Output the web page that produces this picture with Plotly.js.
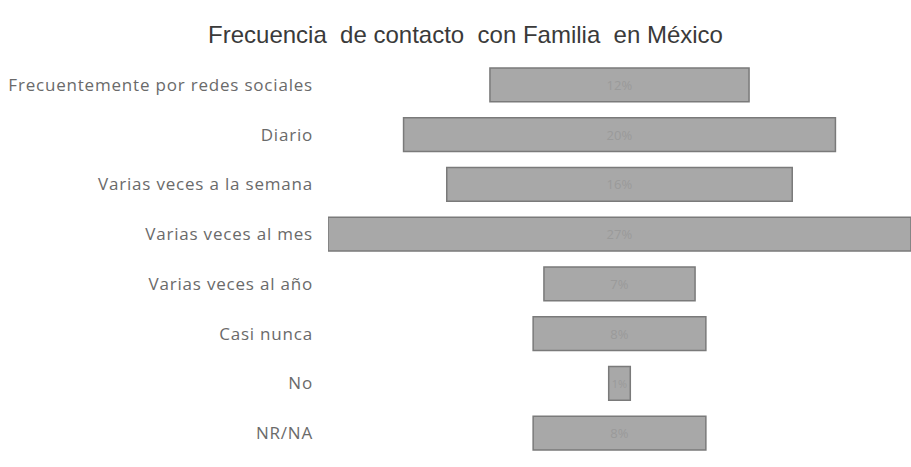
<!DOCTYPE html>
<html><head><meta charset="utf-8">
<script src="https://cdn.plot.ly/plotly-3.0.1.min.js"></script>
<style>body{margin:0;background:#fff}#c{width:911px;height:467px}
#c .ytick text{letter-spacing:0.8px}</style>
</head><body><div id="c"></div>
<script>
const categories = ["Frecuentemente por redes sociales","Diario","Varias veces a la semana","Varias veces al mes","Varias veces al año","Casi nunca","No","NR/NA"];
const values = [12,20,16,27,7,8,1,8];
const labels = values.map(v => v + "%");

const trace = {
  type: "funnel",
  y: categories,
  x: values,
  text: labels,
  texttemplate: "%{text}",
  textposition: "inside",
  insidetextanchor: "middle",
  textfont: {family: "'Open Sans', sans-serif", size: 13, color: "#9a9a9a"},
  marker: {color: "#a8a8a8", line: {color: "#7a7a7a", width: 1.5}},
  connector: {visible: false},
  width: 0.68,
  hoverinfo: "none"
};
const layout = {
  width: 911, height: 467,
  margin: {l: 328, r: 0, t: 60, b: 9},
  paper_bgcolor: "#fff", plot_bgcolor: "#fff",
  title: {text: "Frecuencia  de contacto  con Familia  en México", x: 0.511, xanchor: "center", y: 0.925, yanchor: "middle",
    font: {family: "'Liberation Sans', Arial, sans-serif", size: 24, color: "#3a3a3a"}},
  xaxis: {range: [-13.5, 13.5], visible: false, fixedrange: true},
  yaxis: {showgrid: false, zeroline: false, showline: false, ticks: "", ticklabelstandoff: 14,
    tickfont: {family: "'Open Sans', sans-serif", size: 17, color: "#6a6a6a"}},
  showlegend: false
};
Plotly.newPlot("c", [trace], layout, {staticPlot: true});
</script></body></html>
